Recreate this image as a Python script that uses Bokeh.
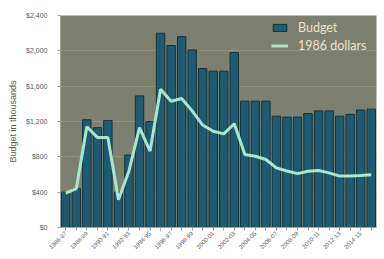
import math
from bokeh.plotting import figure
from bokeh.models import ColumnDataSource, FixedTicker, NumeralTickFormatter, Range1d, Legend, LegendItem
from bokeh.embed import file_html
from bokeh.resources import INLINE

years = ["1986-87", "1987-88", "1988-89", "1989-90", "1990-91", "1991-92", "1992-93", "1993-94",
         "1994-95", "1995-96", "1996-97", "1997-98", "1998-99", "1999-00", "2000-01", "2001-02",
         "2002-03", "2003-04", "2004-05", "2005-06", "2006-07", "2007-08", "2008-09", "2009-10",
         "2010-11", "2011-12", "2012-13", "2013-14", "2014-15", "2015-16"]
budget = [400, 440, 1220, 1130, 1210, 400, 820, 1490, 1200, 2200,
          2060, 2160, 2010, 1800, 1770, 1770, 1980, 1430, 1430, 1430,
          1260, 1250, 1250, 1290, 1320, 1320, 1260, 1280, 1330, 1340]
dollars_1986 = [390, 440, 1140, 1020, 1020, 314, 640, 1130, 865, 1565,
                1430, 1460, 1320, 1160, 1090, 1060, 1175, 826, 807, 770,
                675, 640, 610, 636, 645, 618, 582, 582, 588, 598]
y_ticks = [0, 400, 800, 1200, 1600, 2000, 2400]

idx = list(range(len(years)))
src = ColumnDataSource(dict(x=idx, year=years, budget=budget, d86=dollars_1986))

p = figure(width=384, height=259, output_backend="svg", toolbar_location=None,
           x_range=Range1d(-0.5, len(years) - 0.5), y_range=Range1d(0, 2400),
           min_border_left=60, min_border_right=8, min_border_top=15, min_border_bottom=32)
p.background_fill_color = "#7e806f"
p.border_fill_color = "white"
p.outline_line_color = None

bars = p.vbar(x="x", top="budget", width=0.8, source=src, fill_color="#1d5b72",
              line_color="#17313b", line_width=1)
line = p.line(x="x", y="d86", source=src, line_color="#a8e8cc", line_width=3)

p.xgrid.visible = False
p.ygrid.grid_line_color = "#8f9182"
p.ygrid.grid_line_width = 1

p.yaxis.ticker = FixedTicker(ticks=y_ticks)
p.yaxis.formatter = NumeralTickFormatter(format="$0,0")
p.yaxis.axis_label = "Budget in thousands"
p.yaxis.axis_label_text_font_size = "9px"
p.yaxis.axis_label_text_font_style = "normal"
p.yaxis.axis_label_text_color = "#595959"
p.yaxis.axis_label_text_font = "Liberation Sans"
p.yaxis.axis_label_standoff = 5
p.yaxis.major_label_text_font_size = "7px"
p.yaxis.major_label_text_color = "#595959"
p.yaxis.major_label_text_font = "Liberation Sans"
p.yaxis.axis_line_color = "#a0a0a0"
p.yaxis.major_tick_line_color = "#a0a0a0"
p.yaxis.major_tick_out = 3
p.yaxis.major_tick_in = 0
p.yaxis.minor_tick_line_color = None
p.yaxis.major_label_standoff = 10

p.xaxis.ticker = FixedTicker(ticks=idx)
p.xaxis.major_label_overrides = {i: (years[i] if i % 2 == 0 else "") for i in idx}
p.xaxis.major_label_orientation = math.pi / 4
p.xaxis.major_label_text_font_size = "6px"
p.xaxis.major_label_text_color = "#595959"
p.xaxis.major_label_text_font = "Liberation Sans"
p.xaxis.axis_line_color = "#a0a0a0"
p.xaxis.major_tick_line_color = "#a0a0a0"
p.xaxis.major_tick_out = 3
p.xaxis.major_tick_in = 0
p.xaxis.minor_tick_line_color = None
p.xaxis.major_label_standoff = 2

legend = Legend(items=[LegendItem(label="Budget", renderers=[bars]),
                       LegendItem(label="1986 dollars", renderers=[line])],
                location=(211, 174))
legend.background_fill_alpha = 0
legend.border_line_color = None
legend.label_text_color = "#e9e6c9"
legend.label_text_font_size = "12.5px"
legend.label_text_font = "Lato"
legend.glyph_width = 17
legend.glyph_height = 9
legend.spacing = 3
legend.margin = 0
legend.padding = 0
legend.label_standoff = 10
p.add_layout(legend)

open("out.html", "w").write(file_html(p, INLINE))
